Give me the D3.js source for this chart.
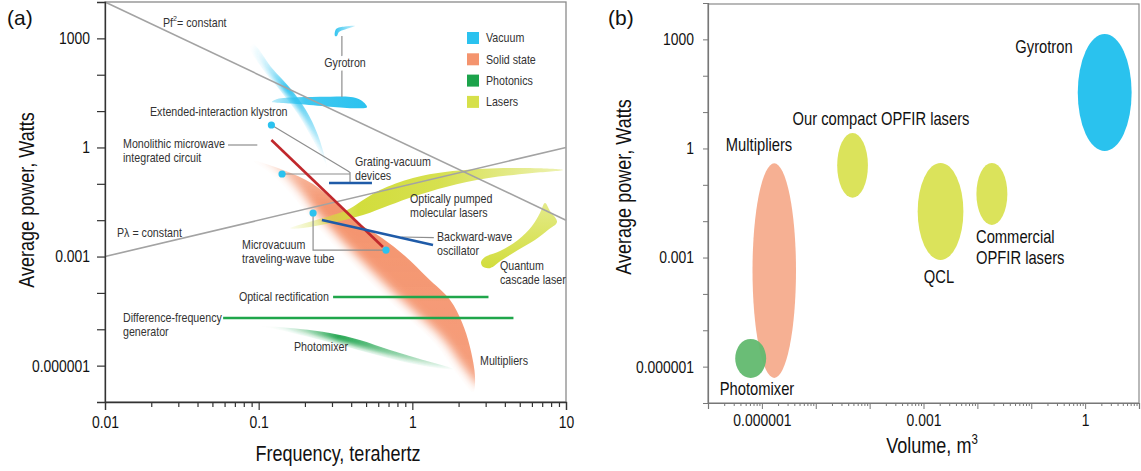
<!DOCTYPE html>
<html>
<head>
<meta charset="utf-8">
<script src="https://cdn.jsdelivr.net/npm/d3@7/dist/d3.min.js"></script>
<style>
  body { margin: 0; background: #fff; }
  svg { font-family: 'Liberation Sans', Arial, sans-serif; }
</style>
</head>
<body>
<div id="chart"></div>
<script>
// ---------- panel (a) : frequency (THz) vs average power (W) ----------
var freqTicks = [0.01, 0.1, 1, 10];
var freqTickLabels = ["0.01", "0.1", "1", "10"];
var powerTicks = [1000, 1, 0.001, 0.000001];
var powerTickLabels = ["1000", "1", "0.001", "0.000001"];

var legendNames = ["Vacuum", "Solid state", "Photonics", "Lasers"];
var legendColours = ["#2bc2ef", "#f4946e", "#1ca34b", "#d6e04a"];

// reference lines (end points)
var pf2Line = [[0.01, 10000], [10, 0.01]];
var plambdaLine = [[0.01, 0.001], [10, 1]];

// outlines of the technology regions, [frequency, power]
var gyrotronBand = [[0.122, 17.8], [0.132, 21.5], [0.178, 23.9], [0.291, 24.9], [0.411, 23.9], [0.478, 18.1], [0.507, 12.7],
                    [0.436, 11.9], [0.291, 13.2], [0.178, 15.7], [0.132, 17.0]];
var gyrotronTop = [[0.314, 1160], [0.319, 1810], [0.365, 2120], [0.423, 2190], [0.365, 1750], [0.333, 1500], [0.323, 1160]];
var vacuumStreak = [[0.092, 700], [0.122, 153], [0.160, 43], [0.203, 10.7], [0.243, 2.2], [0.279, 0.29],
                    [0.266, 0.45], [0.226, 1.6], [0.180, 8.3], [0.134, 43], [0.105, 153], [0.088, 543]];
var solidState = [[0.092, 0.424], [0.144, 0.240], [0.226, 0.0989], [0.328, 0.0262], [0.456, 0.00785], [0.635, 0.00324],
                  [0.896, 0.00104], [1.26, 2.57e-4], [1.76, 6.4e-5], [2.10, 1.58e-5], [2.37, 3.3e-6], [2.56, 4.6e-7], [2.48, 1.88e-7],
                  [1.98, 5.5e-7], [1.43, 3.7e-6], [0.937, 2.04e-5], [0.664, 7.7e-5], [0.405, 6.2e-4], [0.243, 0.0061],
                  [0.162, 0.0525], [0.1185, 0.198]];
var photomixer = [[0.102, 1.23e-5], [0.186, 1.02e-5], [0.291, 7.9e-6], [0.456, 5.1e-6], [0.716, 2.7e-6], [1.12, 1.52e-6], [1.84, 8.1e-7],
                  [1.30, 9.2e-7], [0.831, 1.34e-6], [0.530, 2.2e-6], [0.338, 3.7e-6], [0.200, 6.5e-6], [0.128, 1.02e-5]];
var molecularLasers = [[0.160, 0.0060], [0.376, 0.0191], [0.478, 0.0359], [0.616, 0.0676], [1.01, 0.145], [1.68, 0.215], [3.56, 0.267],
                       [6.77, 0.267], [9.56, 0.240], [5.83, 0.195], [3.06, 0.142], [1.68, 0.0834], [1.01, 0.0442], [0.716, 0.0262],
                       [0.478, 0.0139], [0.291, 0.0082], [0.186, 0.0060]];
var cascadeLaser = [[7.30, 0.0297], [7.87, 0.0179], [8.74, 0.00891], [7.63, 0.00537], [6.28, 0.00285], [4.87, 0.00151], [3.83, 8.0e-4],
                    [3.20, 4.8e-4], [2.88, 5.2e-4], [2.80, 7.1e-4], [2.97, 9.7e-4], [3.72, 0.00142], [4.87, 0.00285], [6.01, 0.00692],
                    [6.77, 0.01576]];

// device lines
var mmicLine = [[0.121, 1.6], [0.644, 0.00183]];
var bwoLine = [[0.258, 0.0101], [1.363, 0.00208]];
var gratingLine = [[0.287, 0.1053], [0.546, 0.1053]];
var optRectLine = [[0.305, 7.7e-5], [3.13, 7.7e-5]];
var dfgLine = [[0.0587, 2.04e-5], [4.55, 2.04e-5]];

var deviceDots = [[0.121, 4.14], [0.142, 0.186], [0.226, 0.01576], [0.674, 0.00151]];

var leaderLines = [
  [[0.348, 1160], [0.348, 24.5]],
  [[0.121, 4.14], [0.381, 0.225], [0.393, 0.205], [0.393, 0.1053]],
  [[0.142, 0.186], [0.393, 0.186]],
  [[0.0632, 1.168], [0.098, 1.168]],
  [[0.226, 0.01576], [0.226, 0.00151], [0.674, 0.00151]],
  [[0.85, 0.00345], [1.38, 0.00330]]
];

var notesA = ["Gyrotron", "Extended-interaction klystron", "Monolithic microwave", "integrated circuit",
              "Grating-vacuum", "devices", "Optically pumped", "molecular lasers", "P\u03bb = constant",
              "Microvacuum", "traveling-wave tube", "Backward-wave", "oscillator", "Quantum", "cascade laser",
              "Optical rectification", "Difference-frequency", "generator", "Photomixer", "Multipliers"];
var notesAPos = [[345, 63, "middle"], [150, 112], [123, 144], [123, 158], [355, 162], [355, 176], [410, 199], [410, 213],
                 [117, 233], [242, 245], [242, 259], [437, 237], [437, 251], [500, 266], [500, 280], [329, 297, "end"],
                 [123, 318], [123, 332], [294, 347], [480, 361]];

// ---------- panel (b) : device volume (m^3) vs average power (W) ----------
var volumeTicks = [0.000001, 0.001, 1];
var volumeTickLabels = ["0.000001", "0.001", "1"];

var bubbleNames = ["Multipliers", "Photomixer", "Our compact OPFIR lasers", "QCL", "Commercial OPFIR lasers", "Gyrotron"];
var bubbleVolume = [[6.7e-7, 4.3e-6], [3.2e-7, 1.2e-6], [2.5e-5, 9.3e-5], [7.8e-4, 5.5e-3], [9.6e-3, 0.036], [0.73, 7.3]];
var bubblePower = [[4.9e-7, 0.39], [4.9e-7, 5.8e-6], [0.044, 2.67], [8.6e-4, 0.40], [7.9e-3, 0.40], [0.85, 1400]];
var bubbleColours = ["#f6b093", "#62b96f", "#dbe35b", "#dbe35b", "#dbe35b", "#2ac2ee"];

var notesB = ["Gyrotron", "Our compact OPFIR lasers", "Multipliers", "Commercial", "OPFIR lasers", "QCL", "Photomixer"];
var notesBPos = [[1044, 47, "middle"], [881, 119, "middle"], [759, 145, "middle"], [976, 237], [976, 258], [939, 277, "middle"], [757, 389, "middle"]];

var NARROW = 0.82;   // the figure uses a condensed face

function sameValue(a, b) {
  return Math.abs(Math.log10(a) - Math.log10(b)) < 1e-6;
}

// moves x/y of a text into a transform and squeezes it horizontally
function squeeze(sel, extra, k) {
  sel.each(function () {
    var t = d3.select(this);
    var x = +t.attr("x") || 0, y = +t.attr("y") || 0;
    t.attr("x", null).attr("y", null)
     .attr("transform", "translate(" + x + "," + y + ")" + (extra || "") + " scale(" + (k || NARROW) + ",1)");
  });
}

function renderCharts() {

  var svg = d3.select("#chart").append("svg")
      .attr("width", 1141)
      .attr("height", 471);

  var defs = svg.append("defs");

  // fades one side of a region (mask = blurred, shifted copy of itself)
  var addFade = function (id, dx, dy, sd) {
    var f = defs.append("filter").attr("id", id)
        .attr("x", "-30%").attr("y", "-30%").attr("width", "160%").attr("height", "160%");
    f.append("feOffset").attr("in", "SourceAlpha").attr("dx", dx).attr("dy", dy).attr("result", "off");
    f.append("feGaussianBlur").attr("in", "off").attr("stdDeviation", sd).attr("result", "blur");
    f.append("feComposite").attr("in", "SourceGraphic").attr("in2", "blur").attr("operator", "in");
  };
  addFade("fadeSolid", 7, -6, 5);
  addFade("fadeStreak", 3, 0, 2.5);
  addFade("fadeGreen", 1, -3, 2.5);

  var addGradient = function (id, x2, y2, stops) {
    var g = defs.append("linearGradient").attr("id", id)
        .attr("x1", 0).attr("y1", 0).attr("x2", x2).attr("y2", y2);
    stops.forEach(function (s) {
      g.append("stop").attr("offset", s[0]).attr("stop-color", s[1]).attr("stop-opacity", s[2]);
    });
  };
  addGradient("gBand", 1, 0, [[0, "#2bc2ef", 0.3], [0.35, "#2bc2ef", 0.9], [1, "#2bc2ef", 1]]);
  addGradient("gTop", 1, 0, [[0, "#2bc2ef", 0.95], [1, "#2bc2ef", 0.25]]);
  addGradient("gStreak", 0.3, 1, [[0, "#2bc2ef", 0.15], [0.45, "#2bc2ef", 1], [1, "#2bc2ef", 0.6]]);
  addGradient("gSolid", 0, 1, [[0, "#f4946e", 0.75], [0.2, "#f4946e", 1], [1, "#f4946e", 0.95]]);
  addGradient("gGreen", 1, 0, [[0, "#1ca34b", 0.25], [0.4, "#1ca34b", 1], [1, "#1ca34b", 0.5]]);
  addGradient("gMol", 1, 0, [[0, "#d2dd3c", 0.08], [0.25, "#d2dd3c", 1], [0.55, "#d2dd3c", 0.9], [1, "#d2dd3c", 0.4]]);
  addGradient("gQcl", 0, 1, [[0, "#d2dd3c", 0.6], [1, "#d2dd3c", 1]]);

  // ===== panel (a) =====
  var xA = d3.scaleLog().domain([0.01, 10]).range([105, 566]);
  var yA = d3.scaleLog().domain([1e-7, 1e4]).range([402, 2]);

  var a = svg.append("g");

  var area = d3.line()
      .x(function (d) { return xA(d[0]); })
      .y(function (d) { return yA(d[1]); })
      .curve(d3.curveCatmullRomClosed.alpha(0.5));
  var straight = d3.line()
      .x(function (d) { return xA(d[0]); })
      .y(function (d) { return yA(d[1]); });

  a.append("rect").attr("x", 105).attr("y", 2).attr("width", 461).attr("height", 400)
      .attr("fill", "none").attr("stroke", "#8a8a8a").attr("stroke-width", 1.3);

  a.append("path").attr("d", area(solidState)).attr("fill", "url(#gSolid)").attr("filter", "url(#fadeSolid)");
  a.append("path").attr("d", area(vacuumStreak)).attr("fill", "url(#gStreak)").attr("filter", "url(#fadeStreak)");
  a.append("path").attr("d", area(gyrotronBand)).attr("fill", "url(#gBand)");
  a.append("path").attr("d", area(gyrotronTop)).attr("fill", "url(#gTop)");
  a.append("path").attr("d", area(photomixer)).attr("fill", "url(#gGreen)").attr("filter", "url(#fadeGreen)");
  a.append("path").attr("d", area(molecularLasers)).attr("fill", "url(#gMol)");
  a.append("path").attr("d", area(cascadeLaser)).attr("fill", "url(#gQcl)");

  // constant lines
  [pf2Line, plambdaLine].forEach(function (l) {
    a.append("path").attr("d", straight(l)).attr("fill", "none")
        .attr("stroke", "#a3a3a3").attr("stroke-width", 1.6);
  });

  leaderLines.forEach(function (l) {
    a.append("path").attr("d", straight(l)).attr("fill", "none")
        .attr("stroke", "#8e8e8e").attr("stroke-width", 1.2);
  });

  a.append("path").attr("d", straight(mmicLine)).attr("stroke", "#c0282c").attr("stroke-width", 2.6).attr("fill", "none");
  [bwoLine, gratingLine].forEach(function (l) {
    a.append("path").attr("d", straight(l)).attr("stroke", "#1f5ba8").attr("stroke-width", 2.6).attr("fill", "none");
  });
  [optRectLine, dfgLine].forEach(function (l) {
    a.append("path").attr("d", straight(l)).attr("stroke", "#20a64b").attr("stroke-width", 2.6).attr("fill", "none");
  });

  a.selectAll("circle.dot")
      .data(deviceDots)
      .enter().append("circle")
      .attr("class", "dot")
      .attr("cx", function (d) { return xA(d[0]); })
      .attr("cy", function (d) { return yA(d[1]); })
      .attr("r", 3.6)
      .attr("fill", "#2bc2ef");

  // annotations
  var na = a.selectAll("text.note")
      .data(notesA)
      .enter().append("text")
      .attr("class", "note")
      .text(function (d) { return d; })
      .attr("x", function (d, i) { return notesAPos[i][0]; })
      .attr("y", function (d, i) { return notesAPos[i][1]; })
      .attr("dy", "0.35em")
      .attr("text-anchor", function (d, i) { return notesAPos[i][2] || "start"; })
      .attr("font-size", 12)
      .attr("fill", "#333")
      .attr("stroke", function (d, i) { return i == 0 ? "#fff" : null; })
      .attr("stroke-width", function (d, i) { return i == 0 ? 7 : null; })
      .attr("paint-order", "stroke");
  squeeze(na, "", 0.89);

  var pf = a.append("text").attr("x", 163).attr("y", 23).attr("dy", "0.35em")
      .attr("font-size", 12).attr("fill", "#333");
  pf.append("tspan").text("Pf");
  pf.append("tspan").text("2").attr("font-size", 8).attr("dy", "-0.75em");
  pf.append("tspan").text("= constant").attr("dy", "0.45em");
  squeeze(pf, "", 0.89);

  // legend
  var leg = a.selectAll("g.legend")
      .data(legendNames)
      .enter().append("g")
      .attr("class", "legend")
      .attr("transform", function (d, i) { return "translate(467," + (32 + i * 21.3) + ")"; });
  leg.append("rect").attr("width", 12).attr("height", 12)
      .attr("fill", function (d, i) { return legendColours[i]; });
  squeeze(leg.append("text").text(function (d) { return d; })
      .attr("x", 19).attr("y", 6).attr("dy", "0.35em")
      .attr("font-size", 12).attr("fill", "#333"), "", 0.89);

  // axes
  var xAxisA = d3.axisBottom(xA)
      .tickValues(xA.ticks())
      .tickSize(8).tickPadding(6)
      .tickFormat(function (d) {
        for (var i = 0; i < freqTicks.length; i++) if (sameValue(d, freqTicks[i])) return freqTickLabels[i];
        return "";
      });
  var gx = a.append("g").attr("transform", "translate(0,402)").call(xAxisA);
  gx.selectAll(".tick line").attr("y2", function (d) {
    return freqTicks.some(function (t) { return sameValue(d, t); }) ? 8 : 5;
  });

  var yAxisA = d3.axisLeft(yA)
      .tickValues([1e-6, 1e-5, 1e-4, 1e-3, 1e-2, 1e-1, 1, 10, 100, 1000])
      .tickSize(8).tickPadding(7)
      .tickFormat(function (d) {
        for (var i = 0; i < powerTicks.length; i++) if (sameValue(d, powerTicks[i])) return powerTickLabels[i];
        return "";
      });
  var gy = a.append("g").attr("transform", "translate(105,0)").call(yAxisA);

  [gx, gy].forEach(function (g) {
    g.attr("font-family", null).attr("font-size", 17);
    g.select(".domain").attr("stroke", "#333").attr("stroke-width", 1.3);
    g.selectAll(".tick line").attr("stroke", "#333").attr("stroke-width", 1.2);
    g.selectAll(".tick text").attr("fill", "#111");
    squeeze(g.selectAll(".tick text"));
  });

  squeeze(a.append("text").text("Frequency,  terahertz")
      .attr("x", 338).attr("y", 453).attr("dy", "0.35em")
      .attr("text-anchor", "middle").attr("font-size", 22).attr("fill", "#111"));
  squeeze(a.append("text").text("Average power, Watts")
      .attr("x", 26).attr("y", 200).attr("dy", "0.35em")
      .attr("text-anchor", "middle").attr("font-size", 22).attr("fill", "#111"), " rotate(-90)");
  a.append("text").text("(a)").attr("x", 7).attr("y", 18).attr("dy", "0.35em")
      .attr("font-size", 21).attr("fill", "#111");

  // ===== panel (b) =====
  var xB = d3.scaleLog().domain([1e-7, 10]).range([708, 1139]);
  var yB = d3.scaleLog().domain([1e-7, 1e4]).range([403, 3]);

  var b = svg.append("g");

  b.append("rect").attr("x", 708).attr("y", 4).attr("width", 431).attr("height", 399)
      .attr("fill", "none").attr("stroke", "#8a8a8a").attr("stroke-width", 1.2);

  b.selectAll("ellipse.bubble")
      .data(bubbleNames)
      .enter().append("ellipse")
      .attr("class", "bubble")
      .attr("cx", function (d, i) { return (xB(bubbleVolume[i][0]) + xB(bubbleVolume[i][1])) / 2; })
      .attr("cy", function (d, i) { return (yB(bubblePower[i][0]) + yB(bubblePower[i][1])) / 2; })
      .attr("rx", function (d, i) { return (xB(bubbleVolume[i][1]) - xB(bubbleVolume[i][0])) / 2; })
      .attr("ry", function (d, i) { return (yB(bubblePower[i][0]) - yB(bubblePower[i][1])) / 2; })
      .attr("fill", function (d, i) { return bubbleColours[i]; })
      .attr("fill-opacity", function (d, i) { return i == 1 ? 0.95 : 1; });

  squeeze(b.selectAll("text.note")
      .data(notesB)
      .enter().append("text")
      .attr("class", "note")
      .text(function (d) { return d; })
      .attr("x", function (d, i) { return notesBPos[i][0]; })
      .attr("y", function (d, i) { return notesBPos[i][1]; })
      .attr("dy", "0.35em")
      .attr("text-anchor", function (d, i) { return notesBPos[i][2] || "start"; })
      .attr("font-size", 18)
      .attr("fill", "#111"));

  var xAxisB = d3.axisBottom(xB)
      .tickValues(xB.ticks())
      .tickSize(6).tickPadding(5)
      .tickFormat(function (d) {
        for (var i = 0; i < volumeTicks.length; i++) if (sameValue(d, volumeTicks[i])) return volumeTickLabels[i];
        return "";
      });
  var gxb = b.append("g").attr("transform", "translate(0,403)").call(xAxisB);
  gxb.selectAll(".tick line").attr("y2", function (d) {
    return Math.abs(Math.log10(d) - Math.round(Math.log10(d))) < 1e-6 ? 6 : 3;
  });

  var yAxisB = d3.axisLeft(yB)
      .tickValues([1e-6, 1e-5, 1e-4, 1e-3, 1e-2, 1e-1, 1, 10, 100, 1000])
      .tickSize(5).tickPadding(9)
      .tickFormat(function (d) {
        for (var i = 0; i < powerTicks.length; i++) if (sameValue(d, powerTicks[i])) return powerTickLabels[i];
        return "";
      });
  var gyb = b.append("g").attr("transform", "translate(708,0)").call(yAxisB);

  [gxb, gyb].forEach(function (g) {
    g.attr("font-family", null).attr("font-size", 17);
    g.select(".domain").attr("stroke", "#777").attr("stroke-width", 1.2);
    g.selectAll(".tick line").attr("stroke", "#777");
    g.selectAll(".tick text").attr("fill", "#111");
    squeeze(g.selectAll(".tick text"));
  });

  var vt = b.append("text").attr("x", 932).attr("y", 445).attr("dy", "0.35em")
      .attr("text-anchor", "middle").attr("font-size", 22).attr("fill", "#111");
  vt.append("tspan").text("Volume,  m");
  vt.append("tspan").text("3").attr("font-size", 14).attr("dy", "-0.6em");
  squeeze(vt);

  squeeze(b.append("text").text("Average power, Watts")
      .attr("x", 623).attr("y", 187).attr("dy", "0.35em")
      .attr("text-anchor", "middle").attr("font-size", 22).attr("fill", "#111"), " rotate(-90)");
  b.append("text").text("(b)").attr("x", 608).attr("y", 18).attr("dy", "0.35em")
      .attr("font-size", 21).attr("fill", "#111");
}

renderCharts();
</script>
</body>
</html>
